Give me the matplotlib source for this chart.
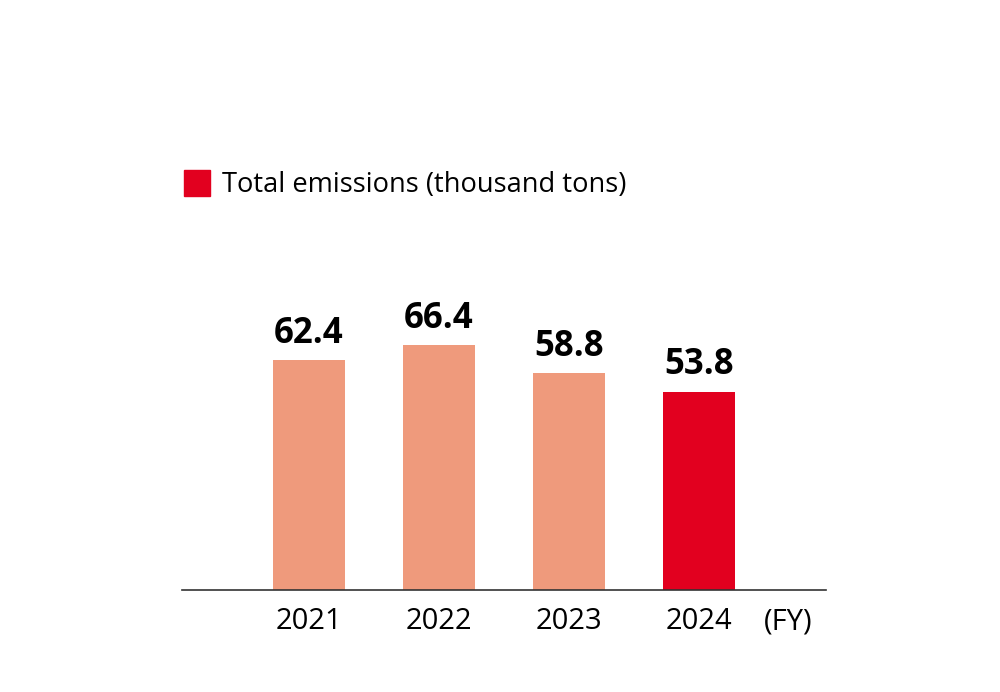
import numpy as np
import matplotlib.pyplot as plt
from matplotlib.patches import Rectangle

plt.rcParams['font.family'] = ['Open Sans', 'DejaVu Sans']

# data
years = ['2021', '2022', '2023', '2024']
emissions = [62.4, 66.4, 58.8, 53.8]
bar_colors = ['#EF9A7C', '#EF9A7C', '#EF9A7C', '#E2001F']
legend_label = 'Total emissions (thousand tons)'

fig = plt.figure(figsize=(10, 6.92), dpi=100)
ax = fig.add_axes([0.182, 0.1474, 0.644, 0.708])

x = np.arange(len(years))
bars = ax.bar(x, emissions, width=0.554, color=bar_colors)

for xi, v in zip(x, emissions):
    ax.annotate(f'{v:.1f}', (xi, v), xytext=(0, 6), textcoords='offset points',
                ha='center', va='bottom', fontsize=25, fontweight='bold')

ax.set_xlim(-0.977, 3.977)
ax.set_ylim(0, 0.708 * 692 / 3.687)
ax.set_xticks(x)
ax.set_xticklabels(years, fontsize=21)
ax.tick_params(axis='x', length=0, pad=12)
ax.set_yticks([])
for s in ['top', 'left', 'right']:
    ax.spines[s].set_visible(False)
ax.spines['bottom'].set_color('#333333')
ax.spines['bottom'].set_linewidth(1.2)

ax.text(3.685, -0.065, '(FY)', transform=ax.get_xaxis_transform(),
        ha='center', va='center', fontsize=21)

# legend
fig.patches.append(Rectangle((0.184, 1 - 196 / 692), 0.026, 26 / 692,
                             transform=fig.transFigure, color='#E2001F'))
fig.text(0.222, 1 - 185 / 692, legend_label, fontsize=19.6, va='center', ha='left')

fig.savefig('out.png', dpi=100)
